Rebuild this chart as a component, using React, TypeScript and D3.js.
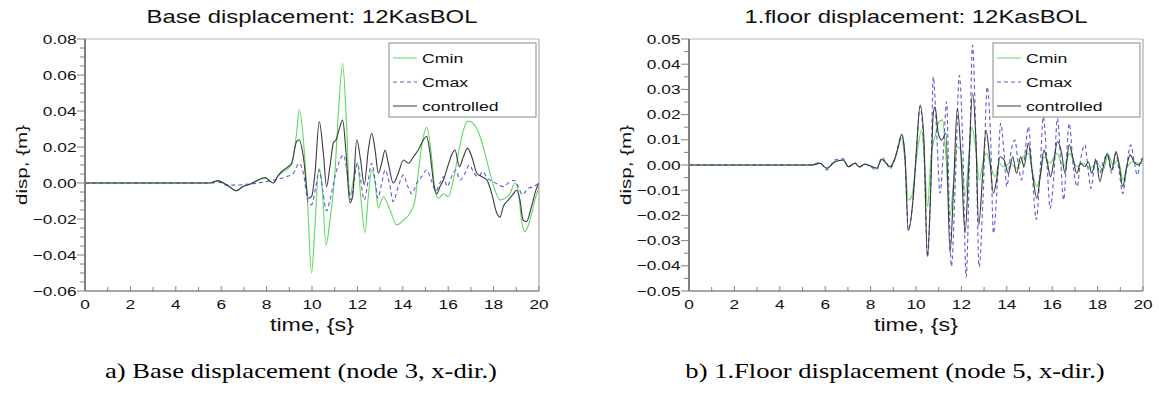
import * as d3 from "d3";

type Pt = [number, number];

const SX = 1.33; // the source picture is stretched sideways
const SANS = "'Liberation Sans', Arial, sans-serif";
const SERIF = "'Liberation Serif', 'Times New Roman', serif";
const GREEN = "#5fd95f";
const BLUE = "#5c5cd8";
const DARK = "#3a3a3a";

const TIME_TICKS = d3.range(0, 21, 2);
const TIME_MINOR = d3.range(1, 20, 2);

// a) base displacement, node 3
const baseCmin: Pt[] = [
  [0, 0], [5.4, 0], [5.6, 0.0003], [5.86, 0.0013], [6.1, 0], [6.3, -0.0015], [6.68, -0.0043],
  [6.95, -0.002], [7.2, -0.001], [7.5, 0.0008], [7.93, 0.003], [8.1, 0.0015], [8.3, 0],
  [8.5, 0.004], [8.74, 0.0063], [9.1, 0.01], [9.32, 0.0276], [9.44, 0.041], [9.62, 0.024],
  [9.8, -0.0094], [9.98, -0.05], [10.13, -0.024], [10.3, 0.008], [10.42, 0.0017],
  [10.62, -0.0344], [10.79, -0.0206], [11.01, 0.0054], [11.16, 0.0387], [11.35, 0.0665],
  [11.52, 0.033], [11.67, -0.0076], [11.82, 0.0017], [12.0, 0.011], [12.16, -0.0094],
  [12.33, -0.0276], [12.48, -0.0076], [12.63, 0.0072], [12.78, 0], [12.92, -0.014],
  [13.14, -0.0076], [13.44, -0.015], [13.73, -0.0233], [14.03, -0.0206], [14.32, -0.0167],
  [14.54, -0.0094], [14.68, 0.0054], [14.83, 0.0203], [15.05, 0.031], [15.27, 0.0146],
  [15.42, -0.004], [15.57, -0.0085], [15.79, -0.006], [16.0, -0.0076], [16.23, 0.0017],
  [16.45, 0.0165], [16.67, 0.0294], [16.89, 0.0344], [17.11, 0.033], [17.4, 0.026],
  [17.62, 0.0165], [17.84, 0.0054], [18.06, -0.004], [18.28, -0.0094], [18.5, -0.0085],
  [18.72, -0.006], [18.94, 0], [19.08, -0.004], [19.23, -0.0206], [19.38, -0.027],
  [19.6, -0.0206], [19.82, -0.0094], [20, -0.002],
];

const baseCmax: Pt[] = [
  [0, 0], [5.6, 0], [5.9, 0.0005], [6.2, -0.0012], [6.6, -0.0012], [7.0, -0.0008],
  [7.5, -0.0002], [8.0, 0.0008], [8.44, 0.002], [8.88, 0.0035], [9.18, 0.0054], [9.44, 0.011],
  [9.62, 0.0054], [9.84, -0.011], [9.98, -0.012], [10.17, -0.002], [10.32, 0.0072],
  [10.47, -0.004], [10.64, -0.0155], [10.79, -0.0094], [11.01, 0.0035], [11.23, 0.0128],
  [11.38, 0.0156], [11.55, 0.0054], [11.7, -0.0094], [11.82, -0.002], [12.0, 0.011],
  [12.14, 0.0017], [12.3, -0.0094], [12.48, 0.0017], [12.63, 0.011], [12.78, 0.0017],
  [12.9, -0.0085], [13.07, 0], [13.22, 0.0072], [13.41, 0], [13.58, -0.0103], [13.8, -0.002],
  [14.03, 0.0045], [14.22, -0.002], [14.4, -0.006], [14.62, 0], [14.83, 0.0035],
  [15.05, 0.0072], [15.27, 0.0009], [15.45, -0.0045], [15.64, 0], [15.79, 0.0035],
  [15.96, -0.002], [16.15, 0.0035], [16.34, 0.0072], [16.52, 0.0017], [16.74, 0.0054],
  [16.93, 0.01], [17.14, 0.0054], [17.33, 0.0035], [17.52, 0.0063], [17.73, 0.0026],
  [17.96, 0.0009], [18.21, -0.0009], [18.43, -0.002], [18.65, 0], [18.91, 0.0015],
  [19.08, -0.002], [19.27, -0.0065], [19.52, -0.003], [19.77, -0.002], [20, 0],
];

const baseCtrl: Pt[] = [
  [0, 0], [5.4, 0], [5.6, 0.0003], [5.86, 0.0013], [6.1, 0], [6.3, -0.0015], [6.68, -0.0043],
  [6.95, -0.002], [7.2, -0.001], [7.5, 0.0008], [7.93, 0.003], [8.1, 0.0015], [8.3, 0],
  [8.5, 0.004], [8.74, 0.0072], [9.1, 0.011], [9.32, 0.023], [9.44, 0.024], [9.62, 0.0146],
  [9.84, -0.0085], [9.98, -0.0076], [10.13, 0.0054], [10.32, 0.034], [10.5, 0.0165],
  [10.64, -0.002], [10.79, 0.009], [10.94, 0.0222], [11.06, 0.024], [11.23, 0.0313],
  [11.35, 0.035], [11.49, 0.0183], [11.67, -0.011], [11.79, -0.0076], [11.97, 0.024],
  [12.14, 0.0128], [12.3, -0.001], [12.48, 0.0183], [12.63, 0.0276], [12.78, 0.0183],
  [12.92, 0.0054], [13.07, 0.011], [13.22, 0.0183], [13.36, 0.011], [13.58, 0],
  [13.8, 0.0054], [14.03, 0.0128], [14.25, 0.011], [14.47, 0.0146], [14.68, 0.0183],
  [14.91, 0.024], [15.05, 0.026], [15.2, 0.0165], [15.38, -0.002], [15.5, -0.006],
  [15.64, -0.002], [15.79, 0.0017], [16.0, 0.01], [16.15, 0.0156], [16.3, 0.0183],
  [16.49, 0.009], [16.67, 0.0146], [16.85, 0.0194], [17.04, 0.0146], [17.26, 0.0054],
  [17.48, 0.0035], [17.7, 0.0017], [17.92, -0.006], [18.14, -0.0167], [18.28, -0.019],
  [18.43, -0.013], [18.65, -0.0094], [18.87, -0.006], [19.01, -0.004], [19.16, -0.0094],
  [19.3, -0.0206], [19.45, -0.0215], [19.67, -0.013], [19.89, -0.003], [20, 0],
];

// b) 1st floor displacement, node 5
const floorCmin: Pt[] = [
  [0, 0], [5.4, 0], [5.77, 0.0007], [6.07, -0.0013], [6.43, 0.0013], [6.8, 0.002],
  [7.02, -0.0007], [7.31, 0.0007], [7.5, -0.0007], [7.75, 0.0003], [7.97, -0.0003],
  [8.27, -0.0013], [8.49, 0.0022], [8.71, 0.0005], [8.85, -0.0007], [9.07, 0.0026],
  [9.37, 0.0105], [9.51, 0.002], [9.66, -0.0139], [9.81, -0.0125], [10.03, 0.0033],
  [10.25, 0.0139], [10.4, -0.0033], [10.51, -0.0165], [10.66, 0.0033], [10.84, 0.0113],
  [10.98, 0.0165], [11.17, 0.0179], [11.32, 0.0033], [11.49, -0.0205], [11.65, -0.0073],
  [11.82, 0.0073], [11.97, 0.006], [12.16, -0.0125], [12.35, 0.006], [12.46, 0.0152],
  [12.64, 0.006], [12.79, -0.0059], [12.97, 0.002], [13.11, 0.0046], [13.34, -0.002],
  [13.48, -0.0046], [13.67, 0.0007], [13.85, -0.0007], [14.14, 0.0007], [14.43, -0.0013],
  [14.73, 0.0033], [14.95, 0.0046], [15.14, -0.0033], [15.32, -0.0086], [15.49, -0.0033],
  [15.64, 0.0033], [15.9, 0.0007], [16.2, 0.0046], [16.49, -0.0007], [16.78, 0.0046],
  [17.08, -0.0007], [17.37, 0.0007], [17.66, -0.0013], [17.96, 0.0007], [18.25, -0.002],
  [18.47, 0.004], [18.69, 0], [18.91, 0.002], [19.11, -0.0059], [19.31, -0.0007],
  [19.57, 0.0013], [19.79, 0.0007], [20, 0.0007],
];

const floorCmax: Pt[] = [
  [0, 0], [5.4, 0], [5.77, 0.001], [6.07, -0.002], [6.43, 0.002], [6.8, 0.0025],
  [7.02, -0.001], [7.31, 0.001], [7.5, -0.001], [7.75, 0.0005], [7.97, -0.0005],
  [8.27, -0.002], [8.49, 0.003], [8.71, 0.0005], [8.85, -0.0015], [9.07, 0.0026],
  [9.37, 0.0118], [9.51, 0.003], [9.66, -0.0258], [9.88, -0.0125], [10.03, 0.0073],
  [10.18, 0.0231], [10.35, 0.0059], [10.51, -0.0364], [10.66, -0.0033], [10.76, 0.035],
  [10.91, 0.0126], [11.06, -0.0112], [11.2, 0.0045], [11.35, 0.0251], [11.47, -0.0192],
  [11.56, -0.0403], [11.73, -0.0073], [11.91, 0.0355], [12.06, 0.0086], [12.21, -0.0445],
  [12.36, 0.003], [12.49, 0.0476], [12.64, 0.0099], [12.78, -0.0405], [12.95, -0.0139],
  [13.14, 0.031], [13.29, 0.0099], [13.41, -0.0271], [13.59, -0.0059], [13.73, 0.0165],
  [13.88, 0.0045], [14.0, -0.0086], [14.17, 0.0045], [14.36, 0.0099], [14.5, 0.0007],
  [14.65, -0.0059], [14.8, 0.0045], [14.95, 0.0152], [15.1, -0.0007], [15.3, -0.0216],
  [15.46, -0.0033], [15.61, 0.0192], [15.77, 0.0007], [15.91, -0.0172], [16.08, -0.0033],
  [16.23, 0.0185], [16.38, 0.0007], [16.5, -0.0139], [16.75, 0.0165], [16.93, -0.0007],
  [17.1, -0.0086], [17.25, 0.002], [17.44, 0.008], [17.6, -0.0033], [17.7, -0.0093],
  [17.93, 0.0026], [18.1, -0.0033], [18.25, 0.0013], [18.43, 0.004], [18.62, -0.0033],
  [18.81, 0.0046], [18.96, -0.0033], [19.11, -0.0113], [19.28, -0.0007], [19.46, 0.008],
  [19.6, 0.002], [19.75, -0.004], [19.9, 0.002], [20, 0.003],
];

const floorCtrl: Pt[] = [
  [0, 0], [5.4, 0], [5.77, 0.0007], [6.07, -0.0013], [6.43, 0.0013], [6.8, 0.002],
  [7.02, -0.0007], [7.31, 0.0007], [7.5, -0.0007], [7.75, 0.0003], [7.97, -0.0003],
  [8.27, -0.0013], [8.49, 0.0022], [8.71, 0.0005], [8.85, -0.0007], [9.07, 0.0026],
  [9.22, 0.0073], [9.37, 0.0122], [9.51, 0.0045], [9.66, -0.026], [9.88, -0.0125],
  [10.03, 0.0073], [10.18, 0.0238], [10.35, 0.0099], [10.5, -0.0364], [10.65, -0.0099],
  [10.76, 0.0205], [10.84, 0.0231], [10.98, 0.0126], [11.13, 0.0099], [11.32, 0.0126],
  [11.5, -0.035], [11.65, -0.0099], [11.82, 0.0226], [11.98, 0.0045], [12.16, -0.0271],
  [12.31, -0.0033], [12.49, 0.0284], [12.64, 0.0099], [12.76, -0.024], [12.94, -0.0033],
  [13.08, 0.0139], [13.23, 0.0045], [13.41, -0.0112], [13.55, -0.0059], [13.7, 0.0033],
  [13.88, 0.002], [14.07, -0.0033], [14.26, 0.0033], [14.43, -0.0033], [14.61, 0.0033],
  [14.76, -0.0007], [14.95, 0.0086], [15.13, -0.0033], [15.32, -0.0132], [15.49, -0.0033],
  [15.64, 0.006], [15.79, 0.0007], [15.93, -0.0046], [16.08, 0.002], [16.23, 0.0093],
  [16.42, 0.0045], [16.56, -0.0033], [16.75, 0.008], [16.93, 0.002], [17.08, -0.0033],
  [17.25, 0.0007], [17.44, -0.0007], [17.59, 0.0013], [17.74, -0.0033], [17.93, 0.002],
  [18.1, -0.0066], [18.25, -0.0007], [18.43, 0.0045], [18.62, -0.002], [18.81, 0.0053],
  [18.96, -0.0007], [19.11, -0.0086], [19.28, -0.0007], [19.43, 0.004], [19.6, 0.0013],
  [19.79, 0], [20, 0.0026],
];

const LEGEND = ["Cmin", "Cmax", "controlled"];
const STYLES = [
  { color: GREEN, dash: "none" },
  { color: BLUE, dash: "4,3" },
  { color: DARK, dash: "none" },
];

function T({ x, y, size, anchor = "start", rotate = false, family = SANS, fill = "#111", children }: any) {
  return (
    <text
      transform={`translate(${x},${y})${rotate ? " rotate(-90)" : ""} scale(${SX},1)`}
      textAnchor={anchor}
      fontSize={size}
      fontFamily={family}
      fill={fill}
    >
      {children}
    </text>
  );
}

const TOP = 39;
const BOTTOM = 291;
const W = 454;

function Panel({ id, left, title, caption, captionX, yMin, yMax, major, minorPer, series }: any) {
  const right = left + W;
  const x = d3.scaleLinear().domain([0, 20]).range([left, right]);
  const y = d3.scaleLinear().domain([yMin, yMax]).range([BOTTOM, TOP]);
  const fmt = d3.format(".2f");
  const majors = d3.range(Math.round(yMin / major), Math.round(yMax / major) + 1).map((k) => k * major);
  const step = major / minorPer;
  const minors = d3
    .range(Math.round(yMin / step), Math.round(yMax / step) + 1)
    .filter((k) => k % minorPer !== 0)
    .map((k) => k * step);

  const line = d3
    .line<Pt>()
    .x((d) => x(d[0]))
    .y((d) => y(d[1]))
    .curve(d3.curveMonotoneX);

  const lgRight = right - 3;
  const lgLeft = lgRight - 147;
  const lgTop = TOP + 4;
  const cx = (left + right) / 2;

  return (
    <g>
      <defs>
        <clipPath id={id}>
          <rect x={left} y={TOP} width={W} height={BOTTOM - TOP} />
        </clipPath>
      </defs>
      <T x={cx} y={23} size={18} anchor="middle">{title}</T>

      <g clipPath={`url(#${id})`}>
        {series.map((s: Pt[], i: number) => (
          <path
            key={i}
            d={line(s) || ""}
            fill="none"
            stroke={STYLES[i].color}
            strokeWidth={1.1}
            strokeDasharray={STYLES[i].dash}
          />
        ))}
      </g>

      {/* frame */}
      <line x1={left} x2={right} y1={TOP} y2={TOP} stroke="#b8b8b8" />
      <line x1={right} x2={right} y1={TOP} y2={BOTTOM} stroke="#999" />
      <line x1={left} x2={right} y1={BOTTOM} y2={BOTTOM} stroke="#888" strokeWidth={1.5} />
      <line x1={left} x2={left} y1={TOP} y2={BOTTOM} stroke="#808080" strokeWidth={2} />

      {/* y ticks */}
      {majors.map((v) => (
        <g key={"M" + v}>
          <line x1={left - 8} x2={left} y1={y(v)} y2={y(v)} stroke="#808080" />
          <T x={left - 8.5} y={y(v) + 4.6} size={13} anchor="end">{fmt(Math.abs(v) < 1e-9 ? 0 : v)}</T>
        </g>
      ))}
      {minors.map((v) => (
        <line key={"m" + v} x1={left - 5} x2={left} y1={y(v)} y2={y(v)} stroke="#808080" />
      ))}

      {/* x ticks */}
      {TIME_TICKS.map((t) => (
        <g key={"t" + t}>
          <line x1={x(t)} x2={x(t)} y1={BOTTOM} y2={BOTTOM - 5} stroke="#808080" />
          <T x={x(t)} y={309} size={13} anchor="middle">{t}</T>
        </g>
      ))}
      {TIME_MINOR.map((t) => (
        <line key={"tm" + t} x1={x(t)} x2={x(t)} y1={BOTTOM} y2={BOTTOM - 4} stroke="#808080" />
      ))}

      <T x={cx} y={331} size={17.5} anchor="middle">time, {"{s}"}</T>
      <T x={left - 58} y={(TOP + BOTTOM) / 2} size={15.5} anchor="middle" rotate>disp, {"{m}"}</T>

      {/* legend */}
      <rect x={lgLeft} y={lgTop} width={147} height={74} fill="#fff" stroke="#8a8a8a" />
      {LEGEND.map((name, i) => (
        <g key={name}>
          <line
            x1={lgLeft + 4}
            x2={lgLeft + 28}
            y1={lgTop + 15 + i * 24}
            y2={lgTop + 15 + i * 24}
            stroke={STYLES[i].color}
            strokeDasharray={STYLES[i].dash}
          />
          <T x={lgLeft + 33} y={lgTop + 20 + i * 24} size={13.3}>{name}</T>
        </g>
      ))}

      <T x={captionX} y={378} size={20} anchor="middle" family={SERIF} fill="#000">{caption}</T>
    </g>
  );
}

export default function App() {
  return (
    <div style={{ position: "fixed", left: 0, top: 0 }}>
      <svg width={1159} height={396} style={{ display: "block", background: "#fff" }}>
        <Panel
          id="clipA"
          left={85}
          title="Base displacement: 12KasBOL"
          caption="a) Base displacement (node 3, x-dir.)"
          captionX={301}
          yMin={-0.06}
          yMax={0.08}
          major={0.02}
          minorPer={4}
          series={[baseCmin, baseCmax, baseCtrl]}
        />
        <Panel
          id="clipB"
          left={689}
          title="1.floor displacement: 12KasBOL"
          caption="b) 1.Floor displacement (node 5, x-dir.)"
          captionX={895}
          yMin={-0.05}
          yMax={0.05}
          major={0.01}
          minorPer={2}
          series={[floorCmin, floorCmax, floorCtrl]}
        />
      </svg>
    </div>
  );
}
